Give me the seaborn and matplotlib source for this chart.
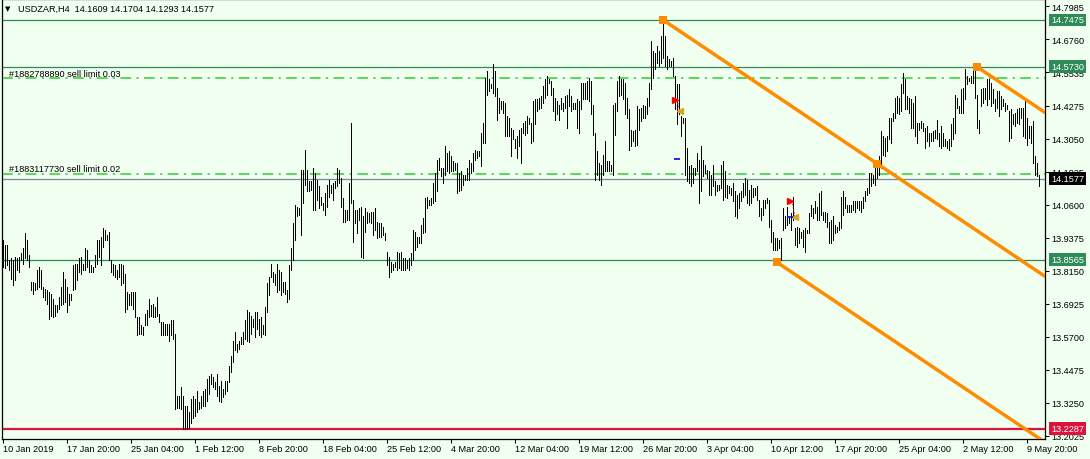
#USDZAR H4 bar chart, MetaTrader look
import numpy as np
import pandas as pd
import matplotlib
matplotlib.use("Agg")
import matplotlib.pyplot as plt
import seaborn as sns

sns.set_style("ticks")
plt.rcParams['font.family'] = ['Liberation Sans', 'DejaVu Sans']

header = "USDZAR,H4  14.1609 14.1704 14.1293 14.1577"

# H4 bars, 10 Jan 2019 12:00 .. 10 May 2019 20:00
bar_high = [
    13.929, 13.911, 13.911, 13.855, 13.861, 13.855, 13.867, 13.861, 13.867, 13.880,
    13.898, 13.954, 13.929, 13.873, 13.774, 13.774, 13.768, 13.817, 13.830, 13.817,
    13.755, 13.749, 13.743, 13.736, 13.730, 13.712, 13.687, 13.687, 13.718, 13.755,
    13.811, 13.786, 13.755, 13.730, 13.730, 13.836, 13.842, 13.842, 13.861, 13.867,
    13.842, 13.898, 13.892, 13.855, 13.836, 13.830, 13.873, 13.929, 13.929, 13.942,
    13.973, 13.967, 13.948, 13.961, 13.855, 13.842, 13.836, 13.817, 13.842, 13.842,
    13.836, 13.805, 13.736, 13.730, 13.736, 13.736, 13.736, 13.643, 13.643, 13.612,
    13.606, 13.656, 13.668, 13.712, 13.687, 13.693, 13.680, 13.718, 13.656, 13.624,
    13.624, 13.618, 13.618, 13.618, 13.631, 13.631, 13.581, 13.351, 13.351, 13.382,
    13.351, 13.314, 13.314, 13.289, 13.338, 13.351, 13.338, 13.369, 13.326, 13.351,
    13.369, 13.376, 13.413, 13.426, 13.432, 13.419, 13.401, 13.432, 13.388, 13.407,
    13.376, 13.407, 13.407, 13.463, 13.500, 13.556, 13.587, 13.544, 13.556, 13.569,
    13.587, 13.631, 13.668, 13.662, 13.649, 13.637, 13.662, 13.662, 13.637, 13.643,
    13.612, 13.680, 13.768, 13.792, 13.842, 13.811, 13.805, 13.842, 13.817, 13.811,
    13.774, 13.774, 13.743, 13.836, 13.898, 13.992, 14.060, 14.054, 14.048, 14.191,
    14.191, 14.265, 14.191, 14.147, 14.147, 14.197, 14.178, 14.153, 14.129, 14.091,
    14.066, 14.104, 14.135, 14.153, 14.135, 14.141, 14.147, 14.197, 14.191, 14.160,
    14.085, 14.041, 14.041, 14.141, 14.365, 14.079, 14.041, 14.041, 14.048, 14.054,
    14.017, 14.048, 14.035, 14.029, 14.035, 14.035, 14.048, 13.998, 13.992, 13.992,
    13.979, 13.954, 13.886, 13.867, 13.848, 13.842, 13.848, 13.886, 13.880, 13.886,
    13.861, 13.861, 13.855, 13.861, 13.880, 13.967, 13.961, 13.942, 13.942, 13.985,
    14.010, 14.085, 14.091, 14.079, 14.085, 14.141, 14.178, 14.228, 14.234, 14.197,
    14.197, 14.278, 14.253, 14.259, 14.240, 14.222, 14.216, 14.216, 14.178, 14.185,
    14.172, 14.172, 14.197, 14.228, 14.216, 14.253, 14.265, 14.259, 14.259, 14.328,
    14.365, 14.533, 14.558, 14.526, 14.508, 14.582, 14.558, 14.495, 14.458, 14.446,
    14.446, 14.439, 14.390, 14.383, 14.346, 14.340, 14.303, 14.315, 14.340, 14.346,
    14.365, 14.371, 14.390, 14.383, 14.365, 14.446, 14.452, 14.452, 14.458, 14.464,
    14.502, 14.526, 14.539, 14.526, 14.520, 14.495, 14.458, 14.446, 14.433, 14.458,
    14.439, 14.464, 14.470, 14.489, 14.464, 14.439, 14.439, 14.452, 14.446, 14.514,
    14.514, 14.514, 14.520, 14.533, 14.520, 14.433, 14.328, 14.259, 14.216, 14.209,
    14.247, 14.296, 14.222, 14.222, 14.209, 14.433, 14.439, 14.520, 14.539, 14.526,
    14.526, 14.514, 14.458, 14.415, 14.340, 14.334, 14.340, 14.427, 14.415, 14.421,
    14.433, 14.427, 14.458, 14.514, 14.670, 14.632, 14.626, 14.651, 14.632, 14.688,
    14.7475, 14.688, 14.614, 14.601, 14.595, 14.607, 14.539, 14.508, 14.508, 14.390,
    14.383, 14.383, 14.272, 14.203, 14.209, 14.197, 14.197, 14.253, 14.228, 14.278,
    14.228, 14.209, 14.191, 14.185, 14.172, 14.209, 14.147, 14.135, 14.135, 14.209,
    14.222, 14.185, 14.135, 14.129, 14.122, 14.141, 14.110, 14.097, 14.104, 14.110,
    14.141, 14.160, 14.153, 14.116, 14.135, 14.122, 14.122, 14.129, 14.079, 14.048,
    14.079, 14.079, 14.085, 14.079, 14.004, 13.961, 13.936, 13.936, 13.929, 13.936,
    14.048, 14.017, 14.054, 14.010, 14.029, 14.091, 13.973, 13.979, 13.973, 13.961,
    13.967, 13.973, 13.967, 14.029, 14.060, 14.048, 14.073, 14.054, 14.104, 14.110,
    14.035, 14.035, 14.029, 13.998, 14.004, 14.017, 13.985, 13.979, 13.998, 14.091,
    14.110, 14.091, 14.060, 14.060, 14.060, 14.073, 14.073, 14.073, 14.073, 14.073,
    14.091, 14.110, 14.122, 14.178, 14.178, 14.172, 14.203, 14.228, 14.240, 14.334,
    14.315, 14.309, 14.315, 14.383, 14.383, 14.402, 14.458, 14.464, 14.458, 14.508,
    14.551, 14.526, 14.464, 14.458, 14.452, 14.439, 14.464, 14.365, 14.365, 14.371,
    14.365, 14.346, 14.352, 14.328, 14.328, 14.334, 14.340, 14.377, 14.328, 14.352,
    14.328, 14.303, 14.296, 14.303, 14.359, 14.383, 14.470, 14.458, 14.427, 14.489,
    14.495, 14.564, 14.539, 14.533, 14.539, 14.564, 14.573, 14.470, 14.377, 14.489,
    14.495, 14.495, 14.526, 14.526, 14.514, 14.489, 14.452, 14.483, 14.483, 14.464,
    14.452, 14.439, 14.433, 14.408, 14.415, 14.396, 14.402, 14.415, 14.421, 14.421,
    14.421, 14.446, 14.383, 14.352, 14.352, 14.371, 14.240, 14.216, 14.1704,
]
bar_low = [
    13.830, 13.824, 13.836, 13.817, 13.786, 13.761, 13.780, 13.817, 13.811, 13.855,
    13.842, 13.861, 13.855, 13.830, 13.743, 13.730, 13.743, 13.749, 13.755, 13.749,
    13.718, 13.705, 13.693, 13.637, 13.649, 13.643, 13.649, 13.662, 13.674, 13.687,
    13.693, 13.699, 13.662, 13.687, 13.705, 13.743, 13.749, 13.780, 13.811, 13.805,
    13.817, 13.817, 13.830, 13.811, 13.811, 13.811, 13.830, 13.842, 13.867, 13.836,
    13.904, 13.929, 13.929, 13.855, 13.811, 13.799, 13.792, 13.786, 13.792, 13.761,
    13.768, 13.662, 13.674, 13.687, 13.687, 13.674, 13.643, 13.575, 13.581, 13.581,
    13.575, 13.612, 13.612, 13.643, 13.649, 13.643, 13.643, 13.649, 13.624, 13.575,
    13.575, 13.575, 13.575, 13.556, 13.575, 13.562, 13.301, 13.307, 13.307, 13.301,
    13.229, 13.229, 13.229, 13.230, 13.251, 13.270, 13.276, 13.289, 13.301, 13.307,
    13.314, 13.314, 13.332, 13.357, 13.394, 13.382, 13.376, 13.351, 13.332, 13.326,
    13.345, 13.357, 13.369, 13.401, 13.438, 13.475, 13.519, 13.513, 13.525, 13.544,
    13.544, 13.562, 13.556, 13.550, 13.581, 13.606, 13.569, 13.600, 13.575, 13.569,
    13.581, 13.575, 13.662, 13.724, 13.792, 13.774, 13.761, 13.736, 13.743, 13.724,
    13.736, 13.730, 13.699, 13.712, 13.817, 13.855, 13.929, 14.017, 14.023, 13.948,
    14.066, 14.135, 14.110, 14.110, 14.116, 14.041, 14.041, 14.079, 14.048, 14.060,
    14.041, 14.023, 14.054, 14.091, 14.104, 14.079, 14.122, 14.129, 14.141, 14.054,
    13.998, 13.998, 14.004, 14.004, 14.066, 13.923, 13.992, 13.954, 14.004, 13.867,
    13.861, 13.961, 13.992, 13.998, 13.992, 13.948, 13.967, 13.936, 13.942, 13.942,
    13.948, 13.929, 13.836, 13.792, 13.811, 13.817, 13.830, 13.817, 13.824, 13.817,
    13.817, 13.817, 13.824, 13.817, 13.836, 13.855, 13.892, 13.904, 13.917, 13.917,
    13.954, 13.961, 14.048, 14.060, 14.060, 14.066, 14.073, 14.110, 14.191, 14.166,
    14.141, 14.172, 14.185, 14.178, 14.185, 14.185, 14.191, 14.104, 14.110, 14.116,
    14.135, 14.153, 14.153, 14.153, 14.178, 14.185, 14.228, 14.234, 14.240, 14.203,
    14.290, 14.290, 14.470, 14.483, 14.495, 14.477, 14.464, 14.377, 14.402, 14.415,
    14.402, 14.315, 14.315, 14.315, 14.240, 14.303, 14.272, 14.234, 14.278, 14.216,
    14.328, 14.321, 14.328, 14.359, 14.290, 14.296, 14.359, 14.408, 14.415, 14.421,
    14.439, 14.458, 14.470, 14.514, 14.470, 14.408, 14.377, 14.396, 14.377, 14.415,
    14.408, 14.421, 14.346, 14.427, 14.408, 14.415, 14.415, 14.346, 14.328, 14.415,
    14.452, 14.452, 14.452, 14.446, 14.396, 14.321, 14.153, 14.172, 14.153, 14.135,
    14.172, 14.185, 14.185, 14.185, 14.185, 14.172, 14.321, 14.408, 14.464, 14.470,
    14.452, 14.396, 14.383, 14.265, 14.278, 14.296, 14.278, 14.284, 14.340, 14.371,
    14.383, 14.383, 14.396, 14.427, 14.489, 14.533, 14.564, 14.589, 14.576, 14.589,
    14.607, 14.576, 14.564, 14.576, 14.576, 14.539, 14.415, 14.359, 14.396, 14.315,
    14.365, 14.172, 14.147, 14.141, 14.129, 14.141, 14.172, 14.185, 14.066, 14.110,
    14.166, 14.178, 14.160, 14.097, 14.097, 14.129, 14.097, 14.110, 14.116, 14.122,
    14.079, 14.091, 14.085, 14.104, 14.097, 14.073, 14.017, 14.010, 14.048, 14.073,
    14.091, 14.097, 14.066, 14.060, 14.066, 14.091, 14.097, 14.079, 14.017, 14.004,
    14.023, 14.048, 14.066, 13.979, 13.923, 13.892, 13.892, 13.892, 13.898, 13.857,
    13.967, 13.973, 13.985, 13.992, 13.967, 14.004, 13.911, 13.904, 13.917, 13.936,
    13.904, 13.886, 13.954, 13.954, 14.017, 14.010, 14.029, 14.004, 14.004, 14.023,
    14.004, 13.998, 13.979, 13.917, 13.917, 13.929, 13.954, 13.961, 13.967, 13.973,
    14.023, 14.048, 14.035, 14.035, 14.035, 14.041, 14.035, 14.048, 14.041, 14.035,
    14.048, 14.073, 14.097, 14.104, 14.129, 14.141, 14.135, 14.160, 14.172, 14.197,
    14.247, 14.240, 14.259, 14.303, 14.290, 14.371, 14.383, 14.402, 14.396, 14.408,
    14.477, 14.415, 14.415, 14.402, 14.346, 14.346, 14.315, 14.290, 14.340, 14.346,
    14.334, 14.272, 14.296, 14.278, 14.296, 14.296, 14.309, 14.303, 14.278, 14.272,
    14.278, 14.278, 14.272, 14.265, 14.278, 14.303, 14.328, 14.421, 14.402, 14.402,
    14.402, 14.452, 14.508, 14.520, 14.514, 14.514, 14.458, 14.346, 14.328, 14.427,
    14.439, 14.452, 14.433, 14.452, 14.427, 14.439, 14.408, 14.421, 14.390, 14.415,
    14.427, 14.408, 14.415, 14.296, 14.309, 14.359, 14.352, 14.365, 14.359, 14.383,
    14.315, 14.309, 14.284, 14.309, 14.290, 14.216, 14.172, 14.166, 14.1293,
]

date_labels = ["10 Jan 2019", "17 Jan 20:00", "25 Jan 04:00", "1 Feb 12:00",
               "8 Feb 20:00", "18 Feb 04:00", "25 Feb 12:00", "4 Mar 20:00",
               "12 Mar 04:00", "19 Mar 12:00", "26 Mar 20:00", "3 Apr 04:00",
               "10 Apr 12:00", "17 Apr 20:00", "25 Apr 04:00", "2 May 12:00",
               "9 May 20:00"]
bars_per_label = 32

price_ticks = [14.7985, 14.6760, 14.5535, 14.4275, 14.3050, 14.1825, 14.0600,
               13.9375, 13.8150, 13.6925, 13.5700, 13.4475, 13.3250, 13.2025]

green_levels = [14.7475, 14.5730, 13.8565]
red_level = 13.2287
bid_price = 14.1577
order_levels = [14.530, 14.176]
order_names = ["#1882788890 sell limit 0.03", "#1883117730 sell limit 0.02"]

# channel: three parallel rays (anchor bar, anchor price), common slope per bar
channel_bar = [330, 387, 487]
channel_price = [14.7475, 13.8467, 14.573]
channel_slope = -0.00499
channel_mid_bar = 437

# order arrows (open arrow, close arrow, blue mark)
open_bar = [336, 393.5]
open_price = [14.449, 14.075]
close_bar = [338.5, 396]
close_price = [14.408, 14.014]
mark_bar = [337, 393.5]
mark_price = [14.230, 14.014]

BG = "#F0FFF0"
GREEN = "#2E8B57"
ORANGE = "#FF8C00"
FS = 6.6

fig = plt.figure(figsize=(10.9, 4.6), dpi=100, facecolor=BG)
ax = fig.add_axes([2 / 1090, 20.5 / 460, 1043 / 1090, 439.5 / 460])
ax.set_facecolor(BG)

x_left, x_right = -0.5, 521
ax.set_xlim(x_left, x_right)
ax.set_ylim(13.192, 14.825)

for lv in green_levels:
    ax.axhline(lv, color=GREEN, lw=0.9, zorder=1)
ax.axhline(red_level, color="#DC143C", lw=1.6, zorder=1)
ax.axhline(bid_price, color="#778899", lw=0.9, zorder=1)
for lv, name in zip(order_levels, order_names):
    ax.axhline(lv, color="#32CD32", lw=1.1, dashes=(7, 3.5, 1.5, 3.5), zorder=1)
    ax.annotate(name, xy=(0, lv), xycoords=("axes fraction", "data"),
                xytext=(5, 1.8), textcoords="offset points", va="baseline",
                fontsize=FS, color="black")

idx = np.arange(len(bar_high))
ax.vlines(idx, bar_low, bar_high, colors="black", linewidth=0.5,
          antialiased=False, zorder=3)

# channel lines
rows = []
for k, (b0, p0) in enumerate(zip(channel_bar, channel_price)):
    rows.append({"line": k, "bar": b0, "price": p0})
    rows.append({"line": k, "bar": x_right, "price": p0 + channel_slope * (x_right - b0)})
ch = pd.DataFrame(rows)
sns.lineplot(data=ch, x="bar", y="price", units="line", estimator=None,
             color=ORANGE, lw=2.5, ax=ax, zorder=4, legend=False)
handles = pd.DataFrame({
    "bar": channel_bar + [channel_mid_bar],
    "price": channel_price + [channel_price[0] + channel_slope * (channel_mid_bar - channel_bar[0])],
})
sns.scatterplot(data=handles, x="bar", y="price", marker="s", s=34, color=ORANGE,
                edgecolor="none", ax=ax, zorder=5, legend=False)

for ob, op, cb, cp in zip(open_bar, open_price, close_bar, close_price):
    ax.plot([ob + 1, cb], [op, cp], color="red", lw=0.7, ls=(0, (1.5, 1.5)), zorder=5)
ax.plot(open_bar, open_price, ls="none", marker=">", ms=4.5, color="red", zorder=6)
ax.plot(close_bar, close_price, ls="none", marker="<", ms=4.5, color="#DAA520", zorder=6)
ax.plot(mark_bar, mark_price, ls="none", marker="_", ms=5, mew=1.2, color="blue", zorder=6)

ax.set_xlabel("")
ax.set_ylabel("")

# axes: price scale on the right, dates at the bottom
ax.yaxis.tick_right()
ax.set_yticks(price_ticks)
ax.set_yticklabels([f"{p:.4f}" for p in price_ticks])
ax.set_xticks(np.arange(len(date_labels)) * bars_per_label)
ax.set_xticklabels(date_labels, ha="left")
ax.tick_params(axis="y", length=3, width=0.75, pad=1.3, labelsize=FS,
               colors="black", labelcolor="black")
ax.tick_params(axis="x", length=3, width=0.75, pad=1.2, labelsize=FS,
               colors="black", labelcolor="black")
for sp in ax.spines.values():
    sp.set_visible(True)
    sp.set_color("black")
    sp.set_linewidth(0.9)

def price_box(value, fc):
    ax.annotate(f"{value:.4f}", xy=(1, value), xycoords=("axes fraction", "data"),
                xytext=(4.3, 0), textcoords="offset points", va="center", ha="left",
                fontsize=FS, color="white", annotation_clip=False, zorder=10,
                bbox=dict(boxstyle="square,pad=0.2", fc=fc, ec="none"))

for lv in green_levels:
    price_box(lv, GREEN)
price_box(bid_price, "black")
price_box(red_level, "#DC143C")

fig.text(5 / 1090, 1 - 11 / 460, "\u25BC", fontsize=5, family="DejaVu Sans",
         va="baseline", color="black")
fig.text(18 / 1090, 1 - 11.5 / 460, header, fontsize=FS, va="baseline", color="black")

fig.savefig("out.png", dpi=100, facecolor=BG)
